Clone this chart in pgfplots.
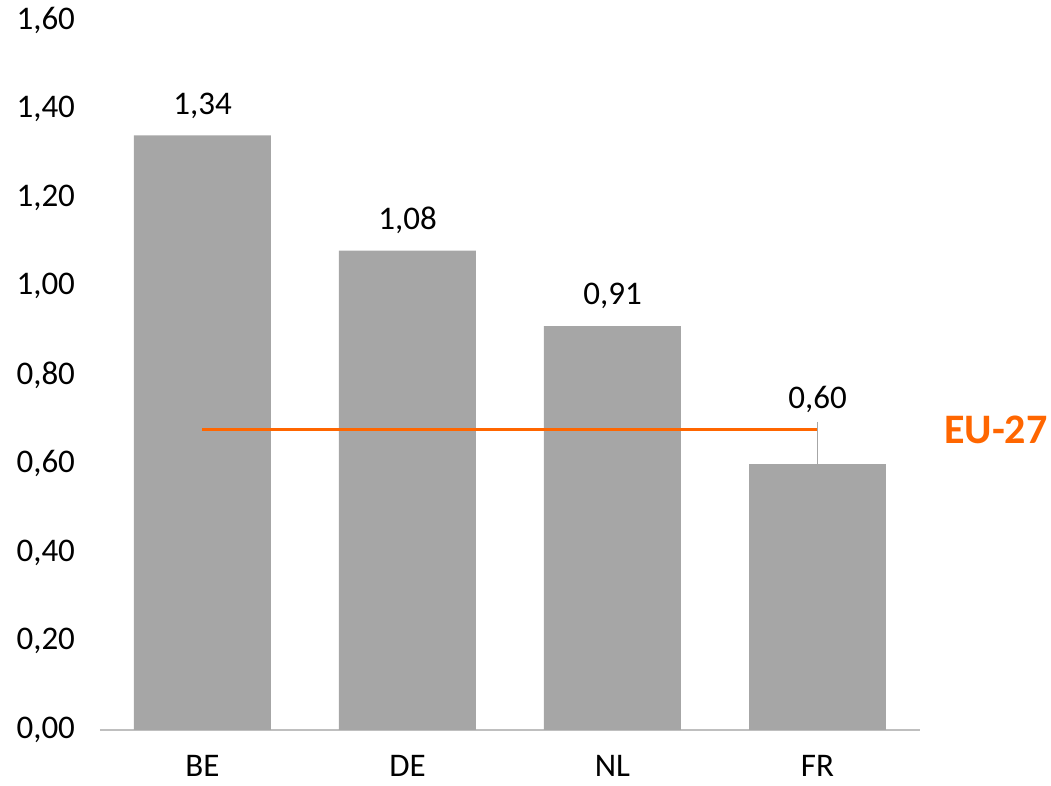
\documentclass[border=0pt]{standalone}
\usepackage{pgfplots}
\pgfplotsset{compat=1.18}
\usepackage{fontspec}
\setmainfont{Carlito}
\definecolor{bargrey}{RGB}{166,166,166}
\definecolor{euorange}{RGB}{255,102,0}
\definecolor{axgrey}{RGB}{191,191,191}
\begin{document}
\begin{tikzpicture}
\path[use as bounding box] (-50pt,-28pt) rectangle (475.5pt,365pt);
\begin{axis}[
  at={(0,0)}, anchor=south west,
  scale only axis, width=410pt, height=355pt,
  xmin=-0.5, xmax=3.5, ymin=0, ymax=1.6,
  clip=false,
  axis x line*=bottom, axis y line*=left,
  x axis line style={draw=axgrey, line width=0.6pt},
  y axis line style={draw=none},
  xtick={0,1,2,3}, xticklabels={BE,DE,NL,FR},
  major x tick style={draw=none},
  extra x ticks={-0.5,0.5,1.5,2.5,3.5},
  extra x tick labels={},
  extra x tick style={tick align=outside, major tick length=5pt, tick style={draw=axgrey, line width=0.6pt}},
  ytick={0,0.2,...,1.6},
  ytick style={draw=none},
  yticklabel style={/pgf/number format/.cd, fixed, fixed zerofill, precision=2, use comma},
  /pgf/number format/assume math mode=true,
  xticklabel style={yshift=-9pt},
  tick label style={font=\fontsize{16.5pt}{19pt}\selectfont},
  xticklabel shift=0pt, yticklabel shift=9pt,
]
\addplot[ybar, bar width=68.5pt, fill=bargrey, draw=none,
  nodes near coords,
  every node near coord/.append style={font=\fontsize{16.5pt}{19pt}\selectfont, yshift=5pt,
    /pgf/number format/.cd, fixed, fixed zerofill, precision=2, use comma, assume math mode=true}]
  coordinates {(0,1.34) (1,1.08) (2,0.91)};
\addplot[ybar, bar width=68.5pt, fill=bargrey, draw=none]
  coordinates {(3,0.60)};
\addplot[draw=bargrey, line width=0.6pt] coordinates {(3,0.60) (3,0.694)}
  node[pos=1, above, text=black, yshift=1pt, font=\fontsize{16.5pt}{19pt}\selectfont] {0,60};
\addplot[draw=euorange, line width=1.5pt] coordinates {(0,0.677) (3,0.677)};
\node[text=euorange, font=\bfseries\fontsize{21pt}{24pt}\selectfont] at (axis cs:3.87,0.677) {EU-27};
\end{axis}
\end{tikzpicture}
\end{document}
